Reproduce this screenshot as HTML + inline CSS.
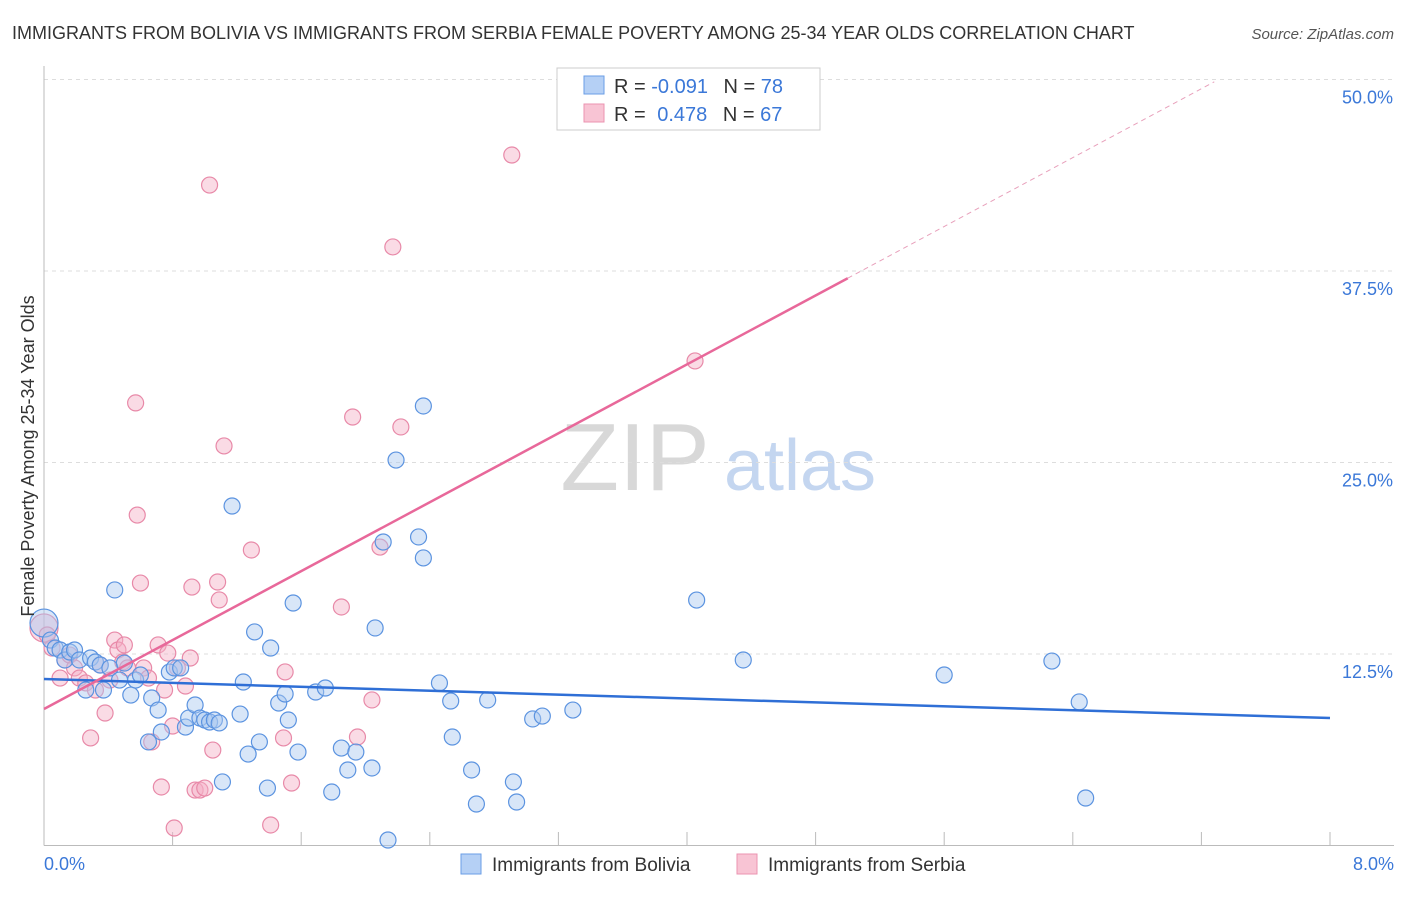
<!DOCTYPE html>
<html><head><meta charset="utf-8">
<style>
body{margin:0;background:#fff;font-family:"Liberation Sans",sans-serif;}
svg text{font-family:"Liberation Sans",sans-serif;}
</style></head>
<body>
<svg id="chart" width="1406" height="892" xmlns="http://www.w3.org/2000/svg">
<text x="12" y="39" font-size="18" fill="#333">IMMIGRANTS FROM BOLIVIA VS IMMIGRANTS FROM SERBIA FEMALE POVERTY AMONG 25-34 YEAR OLDS CORRELATION CHART</text>
<text x="1394" y="39" font-size="15" fill="#555" text-anchor="end" font-style="italic">Source: ZipAtlas.com</text>
<g>
<text x="635" y="490" font-size="96" fill="#d8d8d8" font-family="Liberation Serif,serif" text-anchor="middle">ZIP</text>
<text x="800" y="490" font-size="72" fill="#c4d6f0" text-anchor="middle">atlas</text>
</g>
<g id="grid"></g>
<g id="axes"></g>
<g id="marks"></g>
<g>
<rect x="557" y="68" width="263" height="62" fill="#fff" stroke="#ccc"/>
<rect x="584" y="76" width="20" height="18" fill="#b5d0f5" stroke="#6a9ee6"/>
<rect x="584" y="104" width="20" height="18" fill="#f8c4d4" stroke="#eb93b0"/>
<text x="614" y="93" font-size="20" fill="#333">R = <tspan fill="#3b78d8">-0.091</tspan>  <tspan dx="10" fill="#333">N = </tspan><tspan fill="#3b78d8">78</tspan></text>
<text x="614" y="121" font-size="20" fill="#333">R = <tspan dx="6" fill="#3b78d8">0.478</tspan>  <tspan dx="10" fill="#333">N = </tspan><tspan fill="#3b78d8">67</tspan></text>
</g>
<g>
<rect x="461" y="854" width="20" height="20" fill="#b5d0f5" stroke="#6a9ee6"/>
<text x="492" y="871" font-size="19" fill="#333">Immigrants from Bolivia</text>
<rect x="737" y="854" width="20" height="20" fill="#f8c4d4" stroke="#eb93b0"/>
<text x="768" y="871" font-size="19" fill="#333">Immigrants from Serbia</text>
</g>
<text transform="translate(34,456) rotate(-90)" font-size="18" fill="#333" text-anchor="middle">Female Poverty Among 25-34 Year Olds</text>
</svg>
<script>
const yTicks=[12.5,25,37.5,50];
const yTickLabels=["12.5%","25.0%","37.5%","50.0%"];
const xTickLabels=["0.0%","8.0%"];
const boliviaX=[0,.04,.07,.10,.13,.16,.19,.22,.26,.29,.32,.35,.37,.41,.44,.47,.50,.54,.57,.60,.65,.67,.71,.73,.78,.81,.85,.88,.90,.94,.97,1.00,1.03,1.06,1.09,1.11,1.17,1.22,1.24,1.27,1.31,1.34,1.39,1.41,1.46,1.50,1.52,1.55,1.58,1.69,1.75,1.79,1.85,1.89,1.94,2.04,2.06,2.14,2.11,2.19,2.33,2.36,2.36,2.46,2.53,2.54,2.66,2.69,2.76,2.92,2.94,3.04,3.10,3.29,4.06,4.35,5.60,6.27,6.44,6.48];
const boliviaY=[14.52,13.41,12.89,12.76,12.11,12.63,12.76,12.11,10.15,12.24,11.98,11.78,10.15,11.59,16.68,10.80,11.91,9.82,10.80,11.13,6.76,9.63,8.84,7.41,11.32,11.59,11.59,7.73,8.32,9.17,8.32,8.19,8.06,8.19,8.00,4.15,22.16,8.58,10.67,5.97,13.94,6.76,3.75,12.89,9.30,9.89,8.19,15.83,6.10,10.02,10.28,3.49,6.36,4.93,6.10,5.06,14.20,0.36,19.81,25.16,20.14,18.77,28.69,10.61,9.43,7.08,4.93,2.71,9.50,4.15,2.84,8.26,8.45,8.84,16.02,12.11,11.13,12.04,9.37,3.10];
const serbiaX=[0,.02,.05,.10,.13,.16,.19,.22,.26,.29,.32,.35,.38,.41,.44,.46,.49,.50,.52,.57,.58,.60,.62,.65,.67,.71,.73,.75,.77,.80,.81,.83,.88,.91,.92,.94,.97,1.00,1.03,1.05,1.08,1.09,1.12,1.29,1.41,1.49,1.50,1.54,1.85,1.92,1.95,2.04,2.09,2.17,2.22,2.91,4.05];
const serbiaY=[14.20,13.74,12.89,10.93,12.11,12.43,11.59,10.93,10.61,7.02,10.15,11.78,8.65,10.80,13.41,12.76,11.98,13.09,11.59,28.89,21.57,17.13,11.59,10.93,6.76,13.09,3.82,10.15,12.56,7.80,1.14,11.59,10.41,12.24,16.87,3.62,3.62,3.75,43.11,6.23,17.20,16.03,26.08,19.29,1.34,7.02,11.33,4.08,15.57,27.97,7.08,9.50,19.48,39.07,27.32,45.07,31.63];
const boliviaTrend=[10.87,8.32];
const serbiaTrend=[8.91,53.9];
const NS="http://www.w3.org/2000/svg";
const xs=v=>44+v*160.75, ys=v=>845.5-v*15.32;
function mk(tag,attrs,parent){const e=document.createElementNS(NS,tag);for(const k in attrs)e.setAttribute(k,attrs[k]);document.getElementById(parent).appendChild(e);return e;}
// grid
yTicks.forEach((t,i)=>{
 const g=mk('line',{x1:44,x2:1394,y1:ys(t),y2:ys(t),stroke:'#ddd','stroke-dasharray':'4,4'},'grid');
 
 
 const l=mk('text',{x:1393,y:ys(t)+24,'font-size':18,fill:'#3b78d8','text-anchor':'end'},'axes');
 l.textContent=yTickLabels[i];
 
 
});
const xa=mk('line',{x1:44,x2:1394,y1:845.5,y2:845.5,stroke:'#bbb'},'axes');


const ya=mk('line',{x1:44,x2:44,y1:66,y2:845.5,stroke:'#bbb'},'axes');


for(let i=0;i<=10;i++){const t=mk('line',{x1:xs(i*0.8),x2:xs(i*0.8),y1:832,y2:845.5,stroke:'#bbb'},'axes');
 
 }
[[0,'start',44],[8,'end',1394]].forEach((d,i)=>{const t=mk('text',{x:d[2],y:870,'font-size':18,fill:'#3b78d8','text-anchor':d[1]},'axes');t.textContent=xTickLabels[i];
 
 });
function pts(X,Y,fill,stroke,name){X.forEach((x,i)=>{const c=mk('circle',{cx:xs(x),cy:ys(Y[i]),r:i==0?14:8,fill:fill,'fill-opacity':0.45,stroke:stroke,'stroke-width':1.2},'marks');
 
 });}
pts(serbiaX,serbiaY,'#f4b0c6','#e889a8','serbia-point');
pts(boliviaX,boliviaY,'#a9c8f0','#5b93e0','bolivia-point');
const bt=mk('line',{x1:xs(0),y1:ys(boliviaTrend[0]),x2:xs(8),y2:ys(boliviaTrend[1]),stroke:'#2f6fd6','stroke-width':2.5},'marks');


const sl=(serbiaTrend[1]-serbiaTrend[0])/8, xe=5.0, xd=7.28;
const st=mk('line',{x1:xs(0),y1:ys(serbiaTrend[0]),x2:xs(xe),y2:ys(serbiaTrend[0]+sl*xe),stroke:'#e8689a','stroke-width':2.5},'marks');


const sd=mk('line',{x1:xs(xe),y1:ys(serbiaTrend[0]+sl*xe),x2:xs(xd),y2:ys(serbiaTrend[0]+sl*xd),stroke:'#e8a0bb','stroke-width':1,'stroke-dasharray':'5,4'},'marks');


</script>
</body></html>
